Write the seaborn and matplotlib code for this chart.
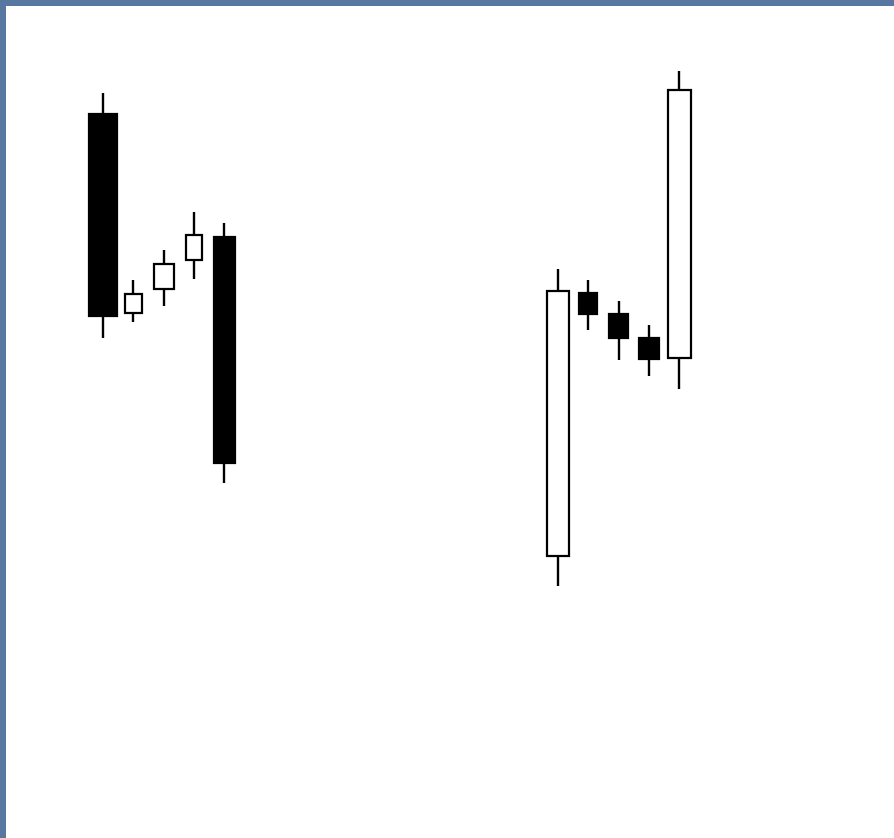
import numpy as np
import pandas as pd
import matplotlib
matplotlib.use('Agg')
import matplotlib.pyplot as plt
import seaborn as sns

# two candlestick patterns: falling three methods (left) and rising three methods (right)
days = [0, 1, 2, 3, 4, 15, 16, 17, 18, 19]
opens = [486, 287, 311, 340, 363, 44, 307, 286, 262, 242]
closes = [284, 306, 336, 365, 137, 309, 286, 262, 241, 510]
highs = [507, 320, 350, 388, 377, 331, 320, 299, 275, 529]
lows = [262, 278, 294, 321, 117, 14, 270, 240, 224, 211]

df = pd.DataFrame({'day': days, 'open': opens, 'close': closes,
                   'high': highs, 'low': lows})
df['bottom'] = df[['open', 'close']].min(axis=1)
df['height'] = (df['close'] - df['open']).abs()
df['up'] = df['close'] > df['open']

# hand-drawn look: bodies are not all the same width
body_w = [0.95, 0.56, 0.66, 0.5, 0.7, 0.73, 0.6, 0.63, 0.63, 0.76]

sns.set_style('white')

fig = plt.figure(figsize=(8.94, 8.38), dpi=100)
fig.patch.set_facecolor('#5877a0')
ax = fig.add_axes([6 / 894, 0, 888 / 894, 832 / 838])
ax.set_facecolor('white')

ax.vlines(df['day'], df['low'], df['high'], color='black', linewidth=1.7, zorder=1)
ax.bar(df['day'], df['height'], bottom=df['bottom'], width=body_w,
       color=np.where(df['up'], 'white', 'black'), edgecolor='black',
       linewidth=1.6, zorder=2)

# map day/price units to the picture's pixel layout
ax.set_xlim(-3.2, 26.08)
ax.set_ylim(-238, 594)
ax.set_xticks([])
ax.set_yticks([])
for s in ax.spines.values():
    s.set_visible(False)

fig.savefig('out.png', dpi=100, facecolor=fig.get_facecolor())
